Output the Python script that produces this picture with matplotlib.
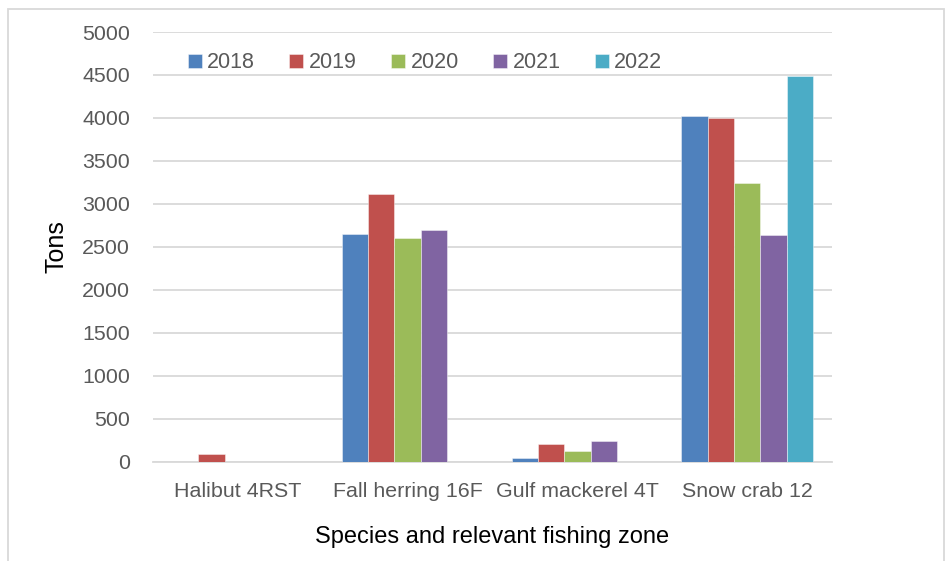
import matplotlib
matplotlib.use("Agg")
import matplotlib.pyplot as plt
import numpy as np
from matplotlib.patches import Rectangle

categories = ["Halibut 4RST", "Fall herring 16F", "Gulf mackerel 4T", "Snow crab 12"]
years = ["2018", "2019", "2020", "2021", "2022"]
v2018 = [0, 2650, 35, 4025]
v2019 = [90, 3115, 200, 4000]
v2020 = [0, 2600, 125, 3245]
v2021 = [0, 2695, 235, 2635]
v2022 = [0, 0, 0, 4490]
series = [v2018, v2019, v2020, v2021, v2022]
colors = ["#4F81BD", "#C0504D", "#9BBB59", "#8064A2", "#4BACC6"]
yticks = [0, 500, 1000, 1500, 2000, 2500, 3000, 3500, 4000, 4500, 5000]

plt.rcParams['font.family'] = ['Liberation Sans', 'DejaVu Sans']

W, H = 952, 561
fig = plt.figure(figsize=(W / 100, H / 100), dpi=100)
ax = fig.add_axes([153 / W, 1 - 461.5 / H, (832 - 153) / W, (461.5 - 32) / H])

x = np.arange(len(categories))
bw = 0.155
for i, (vals, c, yr) in enumerate(zip(series, colors, years)):
    ax.bar(x + (i - 2) * bw, vals, width=bw, color=c, label=yr,
           edgecolor=(1, 1, 1, 0.5), linewidth=0.6, zorder=3)

ax.set_xlim(-0.5, len(categories) - 0.5)
ax.set_ylim(0, 5000)
ax.set_yticks(yticks)
ax.set_xticks(x)
ax.set_xticklabels(categories)
ax.grid(axis='y', color='#D9D9D9', linewidth=1.3, zorder=0)
for s in ['top', 'right', 'left']:
    ax.spines[s].set_visible(False)
ax.spines['bottom'].set_color('#D9D9D9')
ax.spines['bottom'].set_linewidth(1.3)
ax.tick_params(axis='both', length=0, labelsize=15.4, colors='#595959')
ax.tick_params(axis='y', pad=16.5)
ax.tick_params(axis='x', pad=15)

ax.set_ylabel("Tons", fontsize=18, color='black', labelpad=10)
ax.set_xlabel("Species and relevant fishing zone", fontsize=17, color='black', labelpad=18)

leg = fig.legend(loc='center', bbox_to_anchor=(425 / W, 1 - 63 / H), ncol=5, frameon=False,
                 fontsize=15.5, handlelength=0.65, handleheight=0.65, handletextpad=0.25,
                 columnspacing=1.6)
for t in leg.get_texts():
    t.set_color('#595959')

fig.patches.append(Rectangle((7.5 / W, -0.01), (944 - 7.5) / W, 1 - 9 / H + 0.01,
                             transform=fig.transFigure, fill=False,
                             edgecolor='#D9D9D9', linewidth=1.3))

fig.savefig("out.png", dpi=100)
